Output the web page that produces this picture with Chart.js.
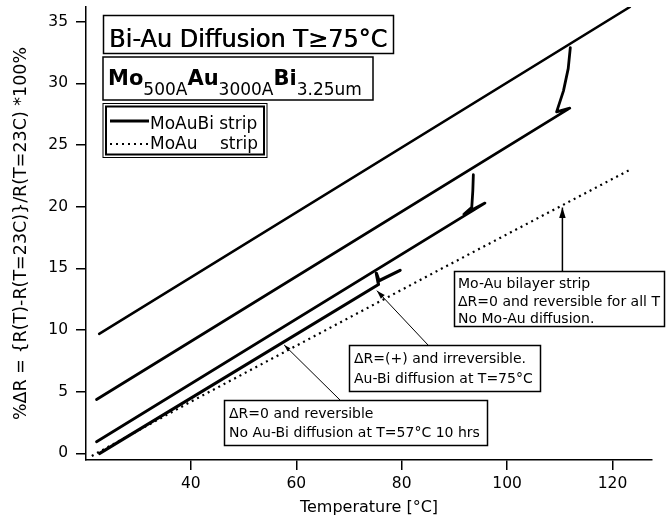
<!DOCTYPE html>
<html>
<head>
<meta charset="utf-8">
<script src="https://cdn.jsdelivr.net/npm/chart.js@4/dist/chart.umd.min.js"></script>
<style>
  html, body { margin: 0; padding: 0; background: #fff; }
  #wrap { width: 668px; height: 525px; position: relative; }
</style>
</head>
<body>
<div id="wrap"><canvas id="grafica"></canvas></div>
<script>
// tick labels
const xTicks = [40, 60, 80, 100, 120];
const yTicks = [0, 5, 10, 15, 20, 25, 30, 35];

// MoAuBi strip, 1st run (57C soak, small step at 75C)
const run1T = [22.7, 75.6, 75.2, 75.7, 79.7];
const run1R = [0.0, 13.7, 14.6, 14.0, 14.85];
// 2nd run, step up at ~93C
const run2T = [22.1, 95.8, 91.8, 93.3, 93.5, 93.6];
const run2R = [0.95, 20.3, 19.4, 19.95, 21.3, 22.6];
// 3rd run, step up at ~112C
const run3T = [22.1, 111.9, 109.4, 110.7, 111.6, 112.0];
const run3R = [4.38, 28.0, 27.7, 29.4, 31.2, 32.9];
// 4th run
const run4T = [22.6, 123.3];
const run4R = [9.7, 36.2];
// MoAu strip (reference)
const moauT = [21.2, 40, 55, 87.2, 123.3];
const moauR = [-0.2, 4.2, 7.6, 14.9, 23.0];

const FUENTE = "'DejaVu Sans', sans-serif";

function puntos(xs, ys) {
    return xs.map((x, i) => ({ x: x, y: ys[i] }));
}

function serie(xs, ys, extra) {
    return Object.assign({
        data: puntos(xs, ys),
        showLine: true,
        borderColor: "#000",
        borderWidth: 2.8,
        pointRadius: 0,
        tension: 0,
        borderJoinStyle: "round",
        borderCapStyle: "round"
    }, extra || {});
}

function flecha(ctx, x1, y1, x2, y2, tam) {
    ctx.beginPath();
    ctx.moveTo(x1, y1);
    ctx.lineTo(x2, y2);
    ctx.stroke();
    const a = Math.atan2(y2 - y1, x2 - x1);
    ctx.beginPath();
    ctx.moveTo(x2, y2);
    ctx.lineTo(x2 - tam * Math.cos(a - 0.3), y2 - tam * Math.sin(a - 0.3));
    ctx.lineTo(x2 - tam * Math.cos(a + 0.3), y2 - tam * Math.sin(a + 0.3));
    ctx.closePath();
    ctx.fill();
}

// cajas de texto y flechas
const anotaciones = {
    id: "anotaciones",
    afterDatasetsDraw(chart) {
        const { ctx } = chart;
        const sx = chart.scales.x, sy = chart.scales.y;
        ctx.save();
        ctx.fillStyle = "#000";
        ctx.strokeStyle = "#000";
        ctx.textBaseline = "alphabetic";
        ctx.textAlign = "left";

        // titulo
        ctx.fillStyle = "#fff";
        ctx.fillRect(103.5, 15.5, 290, 38);
        ctx.fillStyle = "#000";
        ctx.lineWidth = 1.5;
        ctx.strokeRect(103.5, 15.5, 290, 38);
        ctx.font = "24px " + FUENTE;
        ctx.fillText("Bi-Au Diffusion T\u226575\u00b0C", 109, 47);
        ctx.fillText("Bi-Au Diffusion T\u226575\u00b0C", 109.6, 47);

        // muestra
        ctx.fillStyle = "#fff";
        ctx.fillRect(103, 57, 270, 43);
        ctx.fillStyle = "#000";
        ctx.strokeRect(103, 57, 270, 43);
        let px = 108;
        const trozos = [["Mo", true], ["500A", false], ["Au", true], ["3000A", false], ["Bi", true], ["3.25um", false]];
        trozos.forEach(([t, grande]) => {
            ctx.font = grande ? "bold 21px " + FUENTE : "17px " + FUENTE;
            ctx.fillText(t, px, grande ? 85 : 95);
            px += ctx.measureText(t).width;
        });

        // leyenda (doble marco)
        ctx.fillStyle = "#fff";
        ctx.fillRect(103, 103.5, 164, 54);
        ctx.fillStyle = "#000";
        ctx.lineWidth = 1;
        ctx.strokeRect(103, 103.5, 164, 54);
        ctx.lineWidth = 2;
        ctx.strokeRect(106, 106.5, 158, 48);
        ctx.lineWidth = 3;
        ctx.beginPath();
        ctx.moveTo(110, 121);
        ctx.lineTo(149, 121);
        ctx.stroke();
        ctx.lineWidth = 2.2;
        ctx.setLineDash([2, 4]);
        ctx.beginPath();
        ctx.moveTo(110, 144);
        ctx.lineTo(149, 144);
        ctx.stroke();
        ctx.setLineDash([]);
        ctx.font = "17px " + FUENTE;
        ctx.fillText("MoAuBi strip", 150, 129);
        ctx.fillText("MoAu", 150, 149);
        ctx.fillText("strip", 220, 149);

        // caja Mo-Au
        ctx.lineWidth = 1.5;
        ctx.fillStyle = "#fff";
        ctx.fillRect(454.5, 271.5, 210, 55);
        ctx.fillStyle = "#000";
        ctx.strokeRect(454.5, 271.5, 210, 55);
        ctx.font = "14px " + FUENTE;
        ctx.fillText("Mo-Au bilayer strip", 458, 288);
        ctx.fillText("\u0394R=0 and reversible for all T", 458, 306);
        ctx.fillText("No Mo-Au diffusion.", 458, 323);
        ctx.lineWidth = 1.5;
        const xa = sx.getPixelForValue(110.5);
        flecha(ctx, xa, 271, xa, sy.getPixelForValue(20.1) + 2, 11);

        // caja difusion a 75C
        ctx.fillStyle = "#fff";
        ctx.fillRect(349.5, 345.5, 191, 46);
        ctx.fillStyle = "#000";
        ctx.strokeRect(349.5, 345.5, 191, 46);
        ctx.fillText("\u0394R=(+) and irreversible.", 354, 363);
        ctx.fillText("Au-Bi diffusion at T=75\u00b0C", 354, 383);
        ctx.lineWidth = 1;
        flecha(ctx, 428, 345, sx.getPixelForValue(75.3), sy.getPixelForValue(13.2), 9);

        // caja sin difusion
        ctx.lineWidth = 1.5;
        ctx.fillStyle = "#fff";
        ctx.fillRect(224.5, 400.5, 263, 45);
        ctx.fillStyle = "#000";
        ctx.strokeRect(224.5, 400.5, 263, 45);
        ctx.fillText("\u0394R=0 and reversible", 229, 418);
        ctx.fillText("No Au-Bi diffusion at T=57\u00b0C 10 hrs", 229, 437);
        ctx.lineWidth = 1;
        flecha(ctx, 340, 400, sx.getPixelForValue(57.7), sy.getPixelForValue(8.8), 7);

        ctx.restore();
    }
};

const ejeComun = {
    border: { display: true, color: "#000", width: 1.5 },
    grid: { drawOnChartArea: false, drawTicks: true, tickLength: 10, color: "#000", lineWidth: 1.5 },
    ticks: { color: "#000", font: { family: FUENTE, size: 15.5 } }
};

new Chart(document.getElementById("grafica"), {
    type: "scatter",
    data: {
        datasets: [
            serie(moauT, moauR, { borderWidth: 2.2, borderDash: [2, 4], borderCapStyle: "butt" }),
            serie(run1T, run1R, { borderWidth: 3.2 }),
            serie(run2T, run2R),
            serie(run3T, run3R),
            serie(run4T, run4R, { borderWidth: 2.5 })
        ]
    },
    options: {
        responsive: true,
        maintainAspectRatio: false,
        devicePixelRatio: 1,
        animation: false,
        layout: { padding: { top: 7, right: 16, left: 0, bottom: 0 } },
        plugins: { legend: { display: false }, tooltip: { enabled: false } },
        scales: {
            x: {
                ...ejeComun,
                type: "linear",
                min: 20.1,
                max: 127.5,
                ticks: { ...ejeComun.ticks, padding: 5 },
                afterBuildTicks: s => { s.ticks = xTicks.map(v => ({ value: v })); },
                afterFit: s => { s.height = 65; s.paddingLeft = 0; s.paddingRight = 0; },
                title: {
                    display: true,
                    text: "Temperature [\u00b0C]",
                    color: "#000",
                    font: { family: FUENTE, size: 16 },
                    padding: { top: 2, bottom: 8 }
                }
            },
            y: {
                ...ejeComun,
                type: "linear",
                min: -0.53,
                max: 36.2,
                ticks: { ...ejeComun.ticks, padding: 8 },
                afterBuildTicks: s => { s.ticks = yTicks.map(v => ({ value: v })); },
                afterFit: s => { s.width = 86; s.paddingTop = 0; s.paddingBottom = 0; },
                title: {
                    display: true,
                    text: "%\u0394R = {R(T)-R(T=23C)}/R(T=23C) *100%",
                    color: "#000",
                    font: { family: FUENTE, size: 17.5 },
                    padding: { top: 11, bottom: 0 }
                }
            }
        }
    },
    plugins: [anotaciones]
});
</script>
</body>
</html>
